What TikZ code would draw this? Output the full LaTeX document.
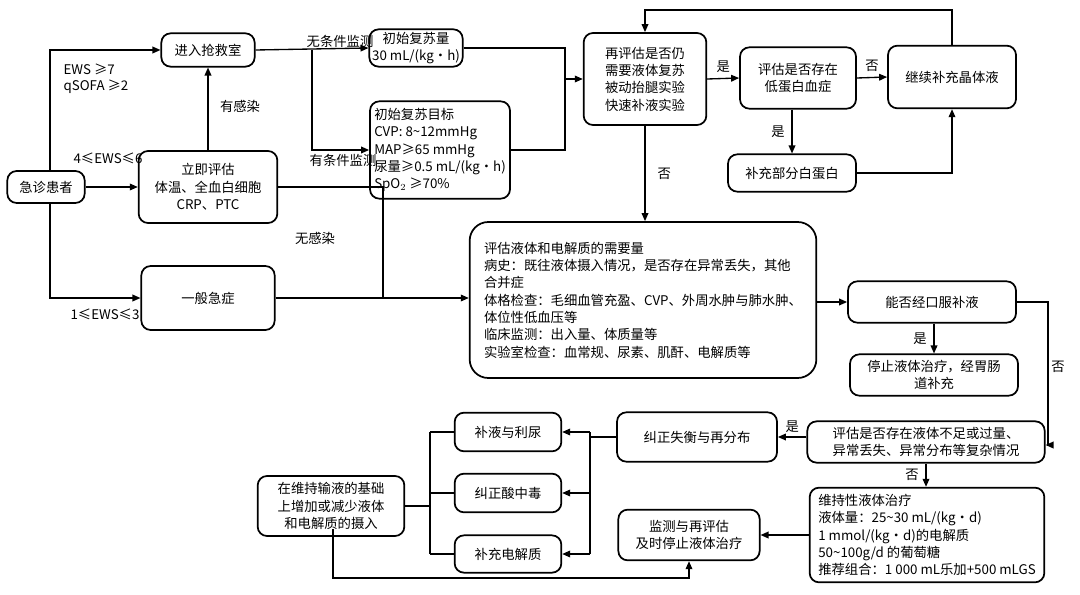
\documentclass[tikz,border=0pt]{standalone}
\usepackage{fontspec}
\setmainfont{Noto Sans CJK SC}
\usetikzlibrary{arrows.meta}
\begin{document}
\begin{tikzpicture}[x=0.75pt,y=-0.75pt,
  box/.style={draw,line width=1.3pt,rounded corners=7pt,inner sep=2pt,align=center,font=\fontsize{10}{13}\selectfont},
  ar/.style={line width=1pt,-{Triangle[length=6pt,width=5pt]}},
  ln/.style={line width=1pt},
  lb/.style={font=\fontsize{10}{12}\selectfont,inner sep=1pt}]
\useasboundingbox (0,0) rectangle (1080,595);
\node[box,minimum width=58pt,minimum height=24pt] (pt) at (46,187) {急诊患者};
\node[box,minimum width=70pt,minimum height=25pt] (er) at (208,50) {进入抢救室};
\node[box,minimum width=104pt,minimum height=54pt] (im) at (208,187) {立即评估\\体温、全血白细胞\\CRP、PTC};
\node[box,minimum width=100pt,minimum height=48pt] (ge) at (208,298) {一般急症};
\node[box,minimum width=70pt,minimum height=28pt] (iv) at (416,48) {初始复苏量\\30 mL/(kg·h)};
\node[box,minimum width=105pt,minimum height=73pt,align=left] (ig) at (440,150) {初始复苏目标\\CVP: 8\textasciitilde12mmHg\\MAP≥65 mmHg\\尿量≥0.5 mL/(kg·h)\\SpO$_2$ ≥70\%};
\node[box,minimum width=92pt,minimum height=69pt] (re) at (645,79) {再评估是否仍\\需要液体复苏\\被动抬腿实验\\快速补液实验};
\node[box,minimum width=87pt,minimum height=46pt] (lo) at (798,78) {评估是否存在\\低蛋白血症};
\node[box,minimum width=96pt,minimum height=47pt] (cr) at (952,77) {继续补充晶体液};
\node[box,minimum width=96pt,minimum height=28pt] (al) at (792,173) {补充部分白蛋白};
\node[box,minimum width=260pt,minimum height=117pt,rounded corners=14pt,align=left] (big) at (643,300) {评估液体和电解质的需要量\\病史：既往液体摄入情况，是否存在异常丢失，其他\\合并症\\体格检查：毛细血管充盈、CVP、外周水肿与肺水肿、\\体位性低血压等\\临床监测：出入量、体质量等\\实验室检查：血常规、尿素、肌酐、电解质等};
\node[box,minimum width=126pt,minimum height=31pt] (or) at (932,302) {能否经口服补液};
\node[box,minimum width=126pt,minimum height=31pt] (st) at (934,375) {停止液体治疗，经胃肠\\道补充};
\node[box,minimum width=178pt,minimum height=31pt] (ev) at (926,442) {评估是否存在液体不足或过量、\\异常丢失、异常分布等复杂情况};
\node[box,minimum width=120pt,minimum height=37pt] (co) at (697,437) {纠正失衡与再分布};
\node[box,minimum width=80pt,minimum height=29pt] (b1) at (508,432) {补液与利尿};
\node[box,minimum width=80pt,minimum height=29pt] (b2) at (508,493) {纠正酸中毒};
\node[box,minimum width=80pt,minimum height=28pt] (b3) at (508,554) {补充电解质};
\node[box,minimum width=110pt,minimum height=45pt] (mt) at (331,506) {在维持输液的基础\\上增加或减少液体\\和电解质的摄入};
\node[box,minimum width=106pt,minimum height=38pt] (mo) at (689,535) {监测与再评估\\及时停止液体治疗};
\node[box,minimum width=176pt,minimum height=71pt,align=left] (ma) at (927,535) {维持性液体治疗\\液体量：25\textasciitilde30 mL/(kg·d)\\1 mmol/(kg·d)的电解质\\50\textasciitilde100g/d 的葡萄糖\\推荐组合：1 000 mL乐加+500 mLGS};
% left part
\draw[ar] (pt.north -| 50,0) -- (50,50) -- (er.west);
\node[lb,align=left,anchor=north west] at (62,62) {EWS ≥7\\qSOFA ≥2};
\draw[ar] (pt.east) -- (im.west);
\node[lb,anchor=south] at (108,165) {4≤EWS≤6};
\draw[ar] (pt.south -| 50,0) -- (50,298) -- (ge.west);
\node[lb,anchor=north] at (105,307) {1≤EWS≤3};
\draw[ar] (im.north) -- (er.south);
\node[lb] at (240,106) {有感染};
\draw[ar] (er.east) -- (iv.west);
\node[lb,anchor=south] at (340,49) {无条件监测};
\coordinate (br) at (312,50);
\draw[ar] (br) -- (312,150) -- (ig.west);
\node[lb,anchor=north] at (343,153) {有条件监测};
\draw[ln] (im.east) -- (383,187) -- (383,298);
\draw[ar] (ge.east) -- (big.west |- 0,298);
\node[lb] at (315,238) {无感染};
% resuscitation
\coordinate (jn) at (565,79);
\draw[ln] (iv.east) -- (565,48) -- (jn);
\draw[ln] (ig.east) -- (565,150) -- (jn);
\draw[ar] (jn) -- (re.west);
\draw[ar] (re.east) -- (lo.west) node[lb,midway,above=3pt] {是};
\draw[ar] (lo.east) -- (cr.west) node[lb,midway,above=3pt] {否};
\draw[ar] (cr.north) -- (952,10) -- (645,10) -- (re.north);
\draw[ar] (lo.south -| al.north) -- (al.north) node[lb,midway,left=4pt] {是};
\draw[ar] (al.east) -- (952,173) -- (cr.south);
\draw[ar] (re.south) -- (big.north -| re.south) node[lb,midway,right=8pt] {否};
% right
\draw[ar] (big.east |- or.west) -- (or.west);
\draw[ar] (or.south -| st.north) -- (st.north) node[lb,midway,left=4pt] {是};
\draw[ar] (or.east) -- (1048,302) -- (1048,445) -- (ev.east |- 0,445);
\node[lb] at (1058,367) {否};
\draw[ar] (ev.west |- co.east) -- (co.east) node[lb,midway,above=2pt] {是};
\draw[ar] (ev.south) -- (ma.north -| ev.south) node[lb,midway,left=4pt] {否};
\draw[ar] (ma.west |- mo.east) -- (mo.east);
% bottom left
\draw[ln] (co.west) -- (590,437);
\draw[ln] (590,432) -- (590,554);
\draw[ar] (590,432) -- (b1.east);
\draw[ar] (590,493) -- (b2.east);
\draw[ar] (590,554) -- (b3.east);
\draw[ln] (mt.east) -- (430,506);
\draw[ln] (430,432) -- (430,554);
\draw[ln] (430,432) -- (b1.west);
\draw[ln] (430,493) -- (b2.west);
\draw[ln] (430,554) -- (b3.west);
\draw[ar] (333,529) -- (333,578) -- (689,578) -- (mo.south);
\end{tikzpicture}
\end{document}
